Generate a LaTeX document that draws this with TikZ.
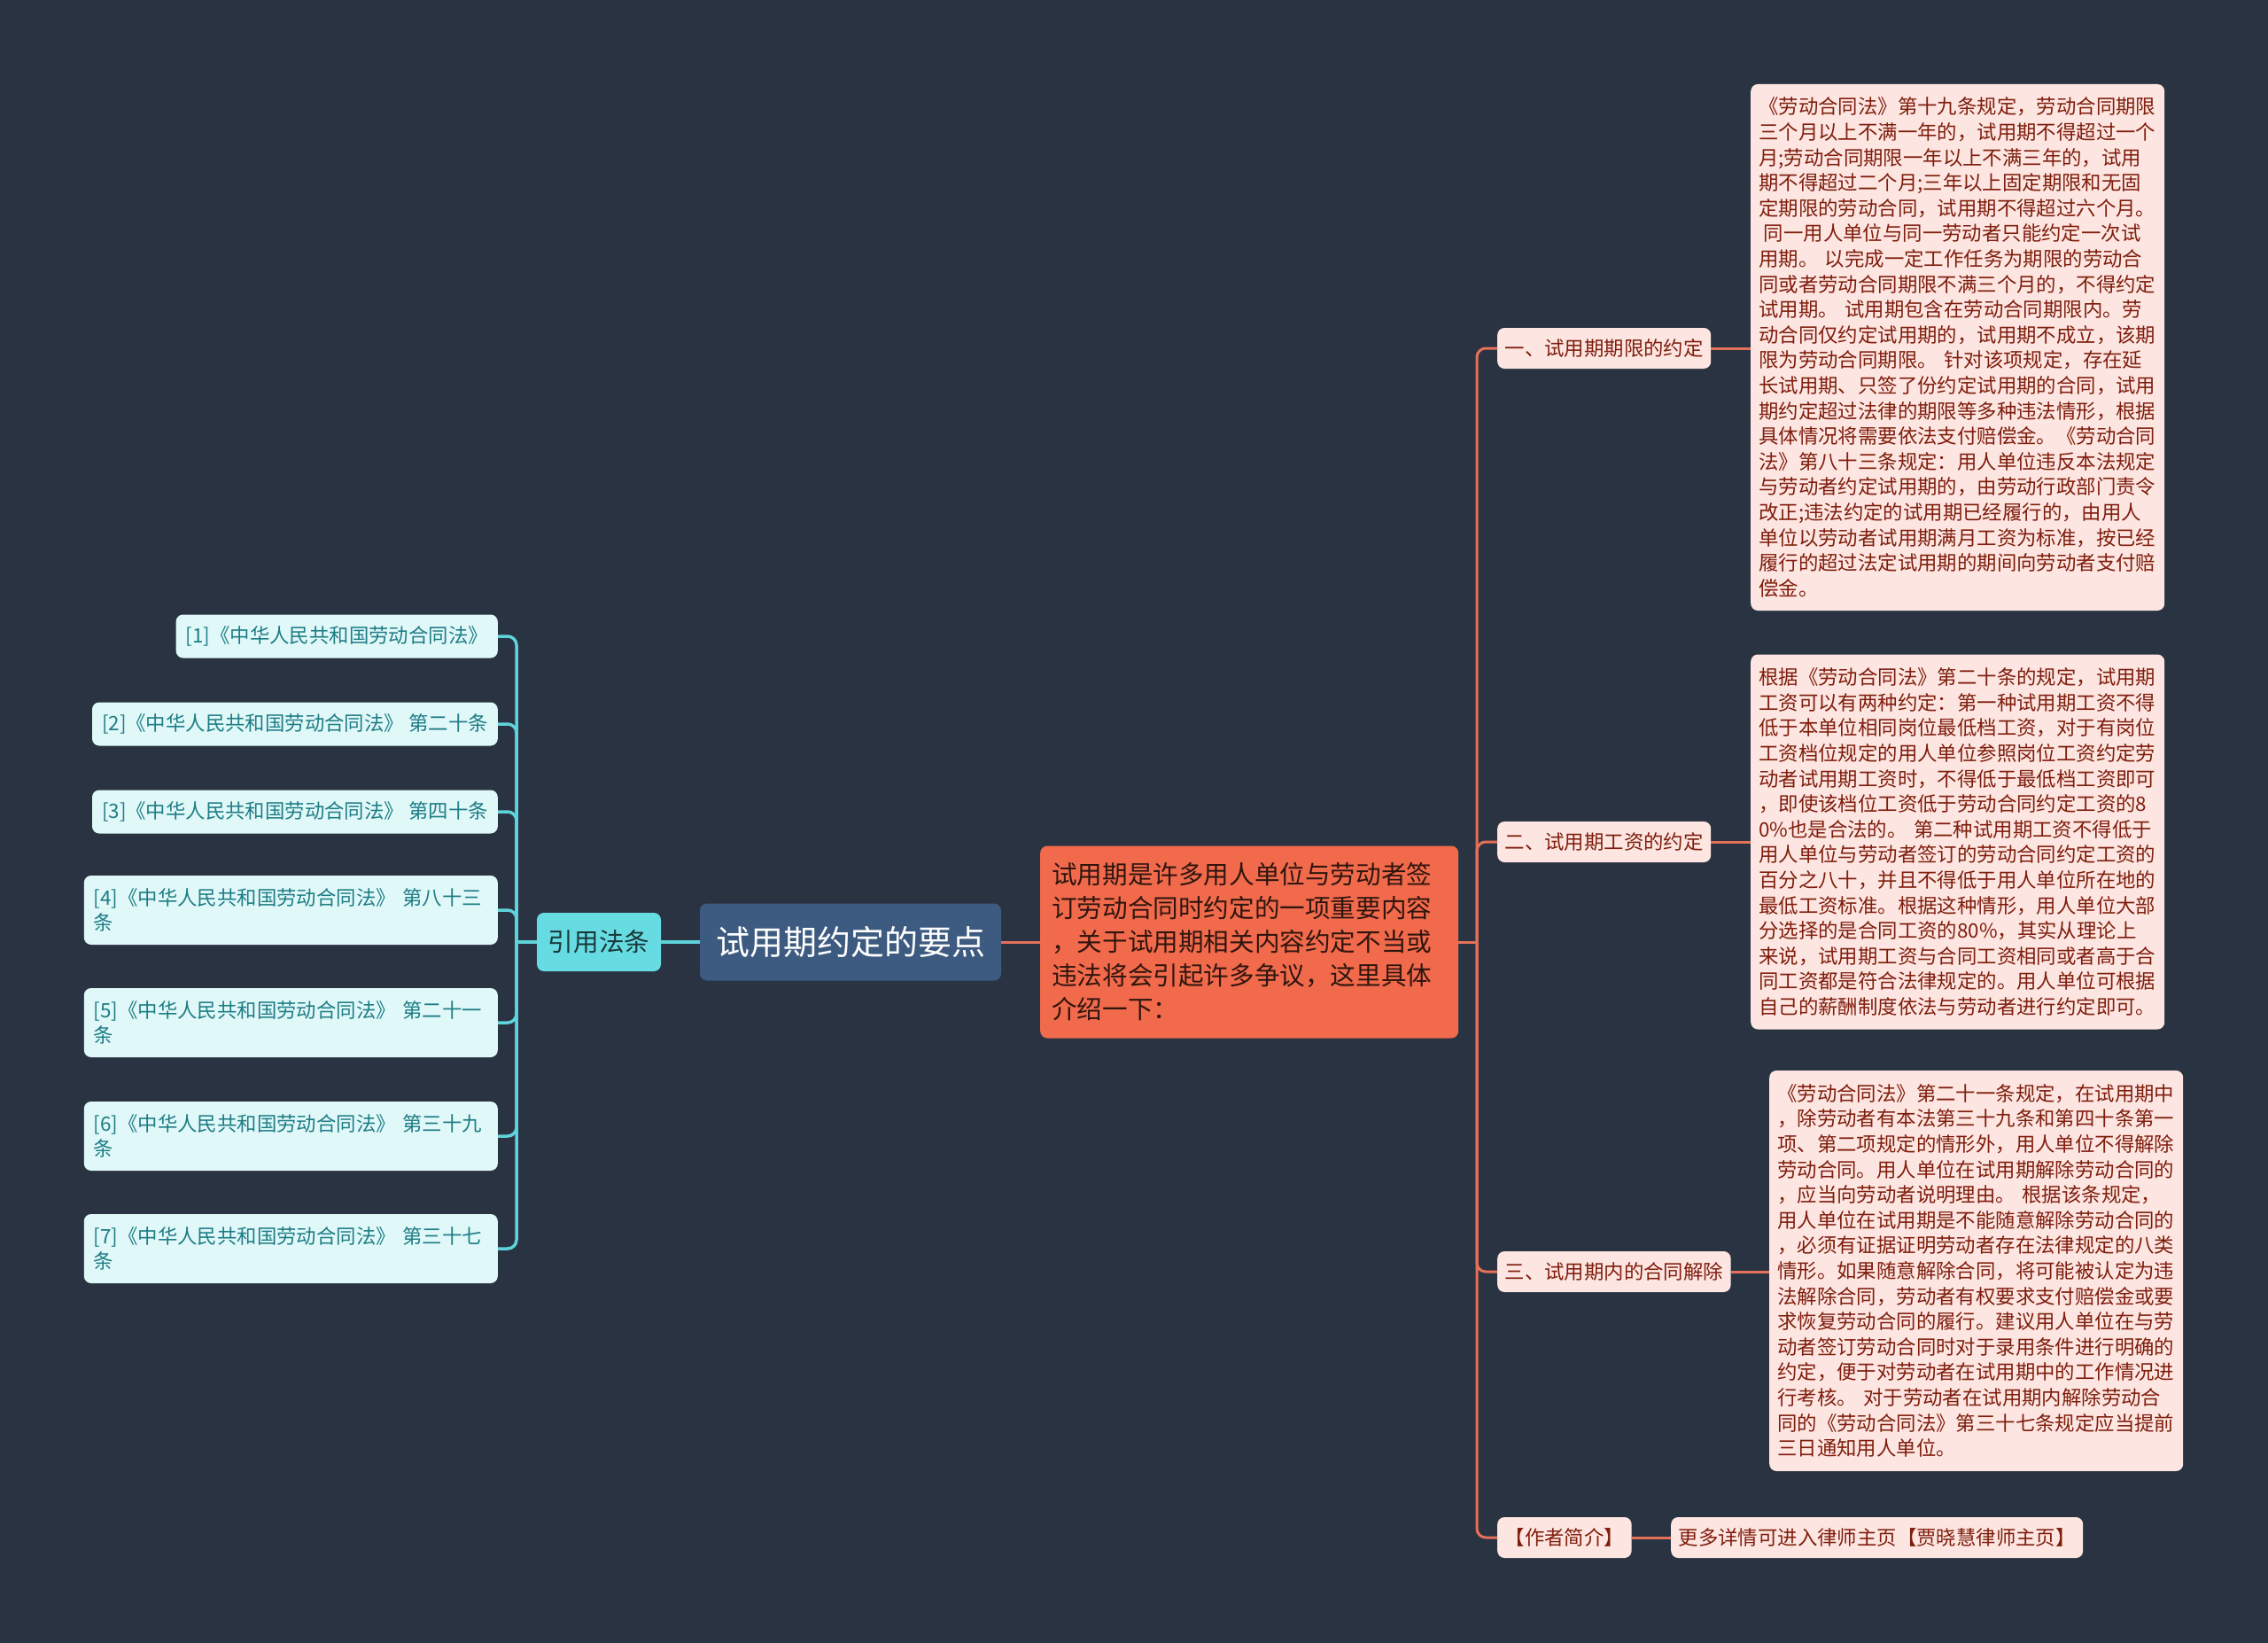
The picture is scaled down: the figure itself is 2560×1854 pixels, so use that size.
\documentclass[tikz,border=0pt]{standalone}
\usepackage{fontspec}
\setmainfont{Noto Sans CJK SC}
\usepackage{tikz}
\usepackage{xcolor}
\definecolor{Night Slate}{HTML}{2A3342}
\definecolor{Steel Blue}{HTML}{3D5A80}
\definecolor{Coral Red}{HTML}{F06A4B}
\definecolor{Coral Line}{HTML}{E5705A}
\definecolor{Blush}{HTML}{FDE6E1}
\definecolor{Brick Text}{HTML}{7F1D0D}
\definecolor{Aqua}{HTML}{66DCE2}
\definecolor{Aqua Line}{HTML}{5FD3DB}
\definecolor{Aqua Pale}{HTML}{E1F8F9}
\definecolor{Teal Text}{HTML}{1D7D85}

\begin{document}
\begin{tikzpicture}[x=1pt, y=-1pt]
  \tikzstyle{box}=[rounded corners=8pt, inner ysep=0pt, align=left]
  \tikzstyle{main topic}=[box, fill=Steel Blue, text=white, minimum width=340, minimum height=87,
      font=\fontsize{38}{46}\selectfont]
  \tikzstyle{center note}=[box, fill=Coral Red, text=black!80!Coral Red, text width=446, inner xsep=13,
      minimum height=217, font=\fontsize{28.6}{38}\selectfont]
  \tikzstyle{ref title}=[box, fill=Aqua, text=black!75!Aqua, minimum width=140, minimum height=66,
      font=\fontsize{28.6}{34}\selectfont]
  \tikzstyle{ref item}=[box, fill=Aqua Pale, text=Teal Text, inner xsep=11, minimum height=49,
      font=\fontsize{22.4}{28}\selectfont]
  \tikzstyle{two lines}=[text width=445, minimum height=78]
  \tikzstyle{branch label}=[box, fill=Blush, text=Brick Text, inner xsep=8.5, minimum height=46,
      font=\fontsize{22.4}{28.6}\selectfont]
  \tikzstyle{leaf text}=[branch label, inner xsep=9, text width=449]
  \tikzstyle{cyan link}=[draw=Aqua Line, line width=3.5pt, rounded corners=10pt]
  \tikzstyle{salmon link}=[draw=Coral Line, line width=3pt, rounded corners=10pt]

  % Background
  \fill[Night Slate] (0,0) rectangle (2560,1854);
  \useasboundingbox (0,0) rectangle (2560,1854);

  % Draw the main topic and its two sides
  \node[main topic] (main) at (960,1063) {试用期约定的要点};
  \node[center note, anchor=west] (note) at (1174,1063)
      {试用期是许多用人单位与劳动者签\\订劳动合同时约定的一项重要内容\\，关于试用期相关内容约定不当或\\违法将会引起许多争议，这里具体\\介绍一下：};
  \node[ref title] (cite) at (676,1063) {引用法条};

  % Draw the cited articles
  \node[ref item, anchor=east] (R-1) at (562,718) {[1]《中华人民共和国劳动合同法》};
  \foreach \n/\y/\art in {2/817/第二十条, 3/916/第四十条}
      \node[ref item, anchor=east] (R-\n) at (562,\y) {[\n]《中华人民共和国劳动合同法》 \art};
  \foreach \n/\y/\art in {4/1027/第八十三, 5/1154/第二十一, 6/1282/第三十九, 7/1409/第三十七}
      \node[ref item, two lines, anchor=east] (R-\n) at (562,\y) {[\n]《中华人民共和国劳动合同法》 \art\\条};

  % Draw the branches on the right
  \node[branch label, anchor=west] (B-1) at (1690,393) {一、试用期期限的约定};
  \node[branch label, anchor=west] (B-2) at (1690,950) {二、试用期工资的约定};
  \node[branch label, anchor=west] (B-3) at (1690,1435) {三、试用期内的合同解除};
  \node[branch label, anchor=west] (B-4) at (1690,1735) {【作者简介】};

  % Draw the texts of the branches
  \node[leaf text, anchor=west, minimum height=594] (T-1) at (1976,392)
      {《劳动合同法》第十九条规定，劳动合同期限\\三个月以上不满一年的，试用期不得超过一个\\月;劳动合同期限一年以上不满三年的，试用\\期不得超过二个月;三年以上固定期限和无固\\定期限的劳动合同，试用期不得超过六个月。\\\hspace*{0.25em}同一用人单位与同一劳动者只能约定一次试\\用期。 以完成一定工作任务为期限的劳动合\\同或者劳动合同期限不满三个月的，不得约定\\试用期。 试用期包含在劳动合同期限内。劳\\动合同仅约定试用期的，试用期不成立，该期\\限为劳动合同期限。 针对该项规定，存在延\\长试用期、只签了份约定试用期的合同，试用\\期约定超过法律的期限等多种违法情形，根据\\具体情况将需要依法支付赔偿金。《劳动合同\\法》第八十三条规定：用人单位违反本法规定\\与劳动者约定试用期的，由劳动行政部门责令\\改正;违法约定的试用期已经履行的，由用人\\单位以劳动者试用期满月工资为标准，按已经\\履行的超过法定试用期的期间向劳动者支付赔\\偿金。};
  \node[leaf text, anchor=west, minimum height=423] (T-2) at (1976,950)
      {根据《劳动合同法》第二十条的规定，试用期\\工资可以有两种约定：第一种试用期工资不得\\低于本单位相同岗位最低档工资，对于有岗位\\工资档位规定的用人单位参照岗位工资约定劳\\动者试用期工资时，不得低于最低档工资即可\\，即使该档位工资低于劳动合同约定工资的8\\0\%也是合法的。 第二种试用期工资不得低于\\用人单位与劳动者签订的劳动合同约定工资的\\百分之八十，并且不得低于用人单位所在地的\\最低工资标准。根据这种情形，用人单位大部\\分选择的是合同工资的80\%，其实从理论上\\来说，试用期工资与合同工资相同或者高于合\\同工资都是符合法律规定的。用人单位可根据\\自己的薪酬制度依法与劳动者进行约定即可。};
  \node[leaf text, anchor=west, minimum height=452] (T-3) at (1997,1434)
      {《劳动合同法》第二十一条规定，在试用期中\\，除劳动者有本法第三十九条和第四十条第一\\项、第二项规定的情形外，用人单位不得解除\\劳动合同。用人单位在试用期解除劳动合同的\\，应当向劳动者说明理由。 根据该条规定，\\用人单位在试用期是不能随意解除劳动合同的\\，必须有证据证明劳动者存在法律规定的八类\\情形。如果随意解除合同，将可能被认定为违\\法解除合同，劳动者有权要求支付赔偿金或要\\求恢复劳动合同的履行。建议用人单位在与劳\\动者签订劳动合同时对于录用条件进行明确的\\约定，便于对劳动者在试用期中的工作情况进\\行考核。 对于劳动者在试用期内解除劳动合\\同的《劳动合同法》第三十七条规定应当提前\\三日通知用人单位。};
  \node[branch label, anchor=west] (T-4) at (1886,1735) {更多详情可进入律师主页【贾晓慧律师主页】};

  % Connect the main topic with both sides
  \path[cyan link] (main.west) -- (cite.east);
  \path[salmon link] (main.east) -- (note.west);

  % Connect the cited articles through a trunk
  \coordinate (trunk-L) at (583,1063);
  \path[cyan link] (cite.west) -- (trunk-L);
  \foreach \n in {1,...,7}
      \path[cyan link] (trunk-L) |- (R-\n.east);

  % Connect the branches through a trunk, then each branch with its text
  \coordinate (trunk-R) at (1667,1063);
  \path[salmon link] (note.east) -- (trunk-R);
  \foreach \n in {1,...,4}
      \path[salmon link] (trunk-R) |- (B-\n.west);
  \foreach \n in {1,...,4}
      \path[salmon link] (B-\n.east) -- (B-\n.east -| T-\n.west);

\end{tikzpicture}
\end{document}
